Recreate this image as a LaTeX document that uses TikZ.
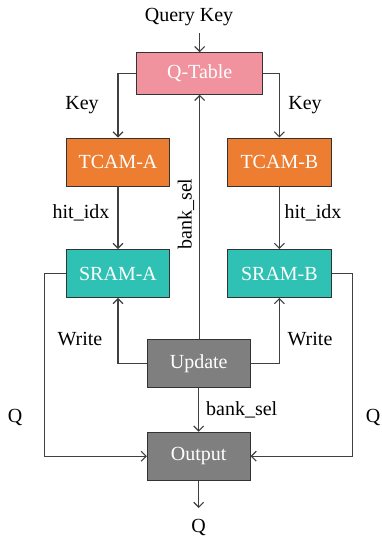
\documentclass[tikz,border=0pt]{standalone}
\usepackage{fontspec}
\setmainfont{Liberation Serif}
\usetikzlibrary{arrows.meta}
\definecolor{qpink}{HTML}{F0939E}
\definecolor{torange}{HTML}{ED7D31}
\definecolor{steal}{HTML}{2FC2B4}
\definecolor{ugray}{HTML}{7F7F7F}
\definecolor{edgec}{HTML}{404040}
\begin{document}
\begin{tikzpicture}[x=1pt,y=-1pt,
  font=\fontsize{20}{23}\selectfont,
  blk/.style={draw=black!80, line width=0.9pt, text=white, inner sep=0pt, minimum width=103.4pt, minimum height=48pt},
  conn/.style={draw=edgec, line width=1.1pt, -{Straight Barb[length=5pt,width=10pt]}},
  lbl/.style={text=black, inner sep=0pt}]
\useasboundingbox (0,0) rectangle (381,537);
\node[blk, fill=qpink, minimum width=126pt, minimum height=41.6pt] (qt) at (199.7,73.5) {Q-Table};
\node[blk, fill=torange] (tcama) at (118,162) {TCAM-A};
\node[blk, fill=torange] (tcamb) at (279.4,162) {TCAM-B};
\node[blk, fill=steal] (srama) at (118,273.5) {SRAM-A};
\node[blk, fill=steal] (sramb) at (279.4,273.5) {SRAM-B};
\node[blk, fill=ugray, minimum width=102.7pt] (upd) at (198.7,363.3) {Update};
\node[blk, fill=ugray, minimum width=102.7pt] (out) at (198.7,456.2) {Output};

\node[lbl] (qk) at (189,17) {Query Key};
\coordinate (qkend) at (199.7,33);
\coordinate (qend) at (198.7,508);
\node[lbl] (qout) at (198.5,527) {Q};

\draw[conn] (qkend) -- (qt.north);
\draw[conn] (qt.west) -| (tcama.north);
\draw[conn] (qt.east) -| (tcamb.north);
\draw[conn] (tcama.south) -- (srama.north);
\draw[conn] (tcamb.south) -- (sramb.north);
\draw[conn] (upd.north -| qt.south) -- (qt.south);
\draw[conn] (upd.west) -| (srama.south);
\draw[conn] (upd.east) -| (sramb.south);
\draw[conn] (upd.south) -- (out.north);
\draw[conn] (srama.west) -- ++(-21.3,0) |- (out.west);
\draw[conn] (sramb.east) -- ++(20.6,0) |- (out.east);
\draw[conn] (out.south) -- (qend);

\node[lbl] (keya) at (82,105) {Key};
\node[lbl] (keyb) at (305,105) {Key};
\node[lbl] (hita) at (81,213) {hit\_idx};
\node[lbl] (hitb) at (313,213) {hit\_idx};
\node[lbl, rotate=90] (bsup) at (186,214) {bank\_sel};
\node[lbl] (wa) at (80,339) {Write};
\node[lbl] (wb) at (310,339) {Write};
\node[lbl] (qa) at (15,417) {Q};
\node[lbl] (qb) at (373,417) {Q};
\node[lbl] (bslo) at (241.7,410) {bank\_sel};
\end{tikzpicture}
\end{document}
